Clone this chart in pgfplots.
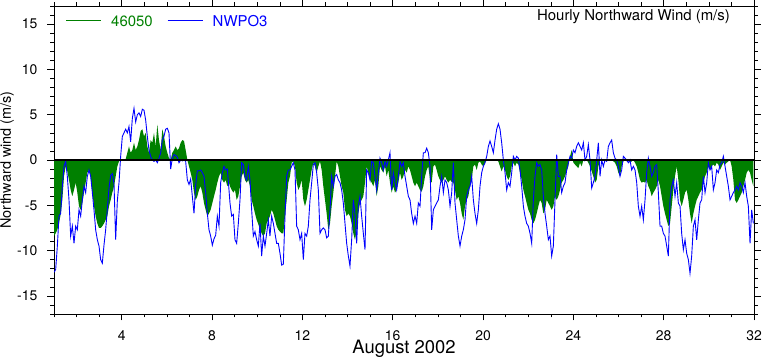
\documentclass[border=0pt]{standalone}
\usepackage{fontspec}
\setmainfont{TeX Gyre Heros}
\usepackage{pgfplots}
\pgfplotsset{compat=1.18}
\usepackage{pgfplotstable}
\definecolor{nclgreen}{RGB}{0,128,0}
\definecolor{nclblue}{RGB}{0,0,255}
\pgfplotstableread{
day b g
1.000 -12.4 -8.4
1.074 -12.1 -8.1
1.148 -9.5 -7.7
1.221 -6.2 -7.0
1.295 -5.9 -6.0
1.369 -2.9 -4.4
1.443 -0.7 -1.8
1.517 -0.15 -0.7
1.590 -1.8 -1.25
1.664 -4.4 -2.2
1.738 -8.4 -3.3
1.812 -7.3 -4.0
1.886 -9.2 -3.3
1.960 -7.3 -2.5
2.033 -7.7 -3.6
2.107 -5.5 -5.1
2.181 -6.2 -5.5
2.255 -4.4 -4.75
2.329 -2.9 -3.6
2.402 -3.6 -2.5
2.476 -1.8 -1.4
2.550 -1.1 -1.1
2.624 -1.8 -1.8
2.698 -3.6 -3.6
2.771 -5.5 -5.1
2.845 -7.7 -6.2
2.919 -8.8 -7.0
2.993 -9.5 -7.5
3.067 -11.0 -7.5
3.140 -11.4 -7.3
3.214 -9.4 -7.0
3.288 -7.7 -6.6
3.362 -5.4 -6.2
3.436 -3.1 -5.1
3.510 -1.7 -4.4
3.583 -1.5 -3.6
3.657 -2.6 -2.9
3.731 -8.8 -1.8
3.805 -4.5 -0.7
3.879 -2.5 -0.15
3.952 0.4 0
4.026 2.6 0
4.100 3.0 0
4.174 3.4 0.1
4.248 3.0 0.8
4.321 3.7 1.5
4.395 2.0 0.8
4.469 4.6 1.1
4.543 5.7 1.9
4.617 4.2 1.1
4.691 5.0 1.5
4.764 5.2 2.2
4.838 4.8 3.2
4.912 5.6 3.4
4.986 5.5 2.6
5.060 4.4 3.0
5.133 2.6 1.5
5.207 1.1 0.8
5.281 0.4 2.2
5.355 0 1.9
5.429 -0.15 3.0
5.502 0 1.5
5.576 -0.3 3.9
5.650 0.2 2.2
5.724 0.8 1.1
5.798 2.2 3.4
5.871 2.6 2.6
5.945 3.4 1.5
6.019 3.5 0.8
6.093 3.0 0.2
6.167 -1.0 0
6.241 0.2 0.8
6.314 0.6 1.1
6.388 0.5 1.5
6.462 0.3 1.1
6.536 -0.3 1.3
6.610 0 1.9
6.683 -0.1 2.2
6.757 0 2.1
6.831 -0.15 1.1
6.905 -2.2 0
6.979 -2.7 -0.7
7.052 -2.1 -1.4
7.126 -4.0 -2.2
7.200 -5.9 -3.6
7.274 -2.8 -4.4
7.348 -1.2 -4.0
7.421 -1.2 -3.3
7.495 -1.1 -2.9
7.569 -1.4 -3.6
7.643 -1.8 -4.75
7.717 -3.6 -5.5
7.791 -5.9 -6.2
7.864 -7.7 -5.9
7.938 -8.4 -5.5
8.012 -9.4 -4.75
8.086 -8.7 -4.0
8.160 -8.3 -3.3
8.233 -6.2 -2.5
8.307 -7.3 -1.8
8.381 -2.5 -1.4
8.455 -1.4 -2.2
8.529 -0.7 -2.5
8.602 -1.1 -2.2
8.676 -1.0 -2.9
8.750 -3.3 -2.5
8.794 -4.75 -2.9
8.868 -6.2 -3.3
8.942 -6.0 -3.6
9.015 -8.8 -3.3
9.089 -9.2 -4.4
9.163 -7.0 -4.0
9.237 -4.4 -2.9
9.311 -0.3 -1.8
9.384 -0.5 -1.4
9.458 -1.8 -2.2
9.532 -2.2 -2.5
9.606 -0.7 -2.2
9.680 -2.2 -2.9
9.754 -5.5 -4.4
9.827 -8.4 -5.1
9.901 -7.9 -5.9
9.975 -8.8 -6.6
10.049 -9.5 -7.1
10.123 -7.0 -7.7
10.196 -10.6 -8.1
10.270 -8.4 -8.4
10.344 -9.5 -8.1
10.418 -8.1 -7.0
10.492 -6.6 -6.6
10.565 -8.4 -6.2
10.639 -6.2 -5.5
10.713 -7.0 -5.9
10.787 -8.1 -6.6
10.861 -9.2 -7.3
10.934 -9.2 -7.7
11.008 -10.3 -7.9
11.082 -11.6 -8.1
11.156 -11.5 -8.1
11.230 -6.2 -6.2
11.304 -1.8 -4.4
11.377 -1.1 -2.5
11.451 -1.1 -1.8
11.525 -0.7 -0.3
11.599 -0.3 -0.15
11.673 -1.1 -0.7
11.746 -7.3 -2.5
11.820 -7.7 -3.3
11.894 -8.8 -2.9
11.968 -8.1 -2.2
12.042 -11.0 -4.4
12.115 -8.1 -5.1
12.189 -8.4 -4.4
12.263 -7.3 -3.3
12.337 -4.4 -2.2
12.411 -2.5 -1.1
12.485 -0.5 -0.3
12.558 -0.3 -0.7
12.632 -1.4 -1.4
12.706 -3.3 -0.7
12.780 -8.1 -0.15
12.854 -7.7 -1.1
12.927 -7.5 -2.9
13.001 -7.7 -4.4
13.075 -8.6 -5.9
13.149 -8.4 -7.7
13.223 -5.5 -7.0
13.296 -1.8 -5.1
13.370 -2.9 -3.6
13.444 -1.8 -1.8
13.518 -1.6 -0.15
13.592 -2.2 -0.7
13.665 -2.5 -1.8
13.739 -3.3 -2.9
13.813 -4.75 -3.6
13.887 -7.0 -5.5
13.961 -9.2 -6.2
14.035 -10.6 -5.9
14.108 -11.7 -6.2
14.182 -8.8 -7.0
14.256 -4.4 -8.1
14.330 -5.9 -8.8
14.404 -9.2 -7.7
14.477 -5.1 -5.9
14.551 -4.0 -4.75
14.625 -6.2 -4.4
14.699 -8.1 -4.0
14.773 -9.9 -2.5
14.846 -1.1 -0.7
14.920 -1.4 -1.4
14.994 -2.2 -2.2
15.068 -0.15 -2.5
15.142 -0.3 -2.9
15.215 -1.8 -2.2
15.289 -3.3 -4.0
15.363 -1.4 -2.9
15.437 0.2 -0.7
15.511 -0.3 -1.1
15.585 -1.1 -1.4
15.658 -0.15 -0.7
15.732 -0.7 -1.8
15.806 0 -1.1
15.880 0.8 -2.5
15.954 -3.3 -3.6
16.027 -1.4 -2.9
16.101 -2.5 -3.6
16.175 -3.3 -3.3
16.249 -1.8 -2.5
16.323 -0.15 -1.4
16.396 -0.7 -2.2
16.470 -0.3 -1.8
16.545 -1.8 -1.1
16.619 -2.9 -1.4
16.693 -4.0 -0.7
16.766 -4.4 -1.1
16.840 -5.9 -1.8
16.914 -7.0 -2.5
16.988 -6.2 -2.9
17.062 -7.0 -2.5
17.135 -4.75 -2.9
17.209 -5.1 -3.3
17.283 -1.8 -3.5
17.357 0.8 -2.9
17.431 0.8 -1.8
17.505 1.3 -1.1
17.578 0.8 -0.7
17.652 -0.7 -2.2
17.726 -7.7 -2.5
17.800 -5.5 -0.7
17.874 -5.1 -0.5
17.947 -4.75 -1.1
18.021 -4.4 -1.8
18.095 -2.9 -2.2
18.169 -1.8 -2.5
18.243 -3.6 -2.2
18.316 -2.2 -1.8
18.390 -2.5 -2.2
18.464 -3.3 -2.5
18.538 -5.1 -2.2
18.612 -3.6 -2.4
18.685 -0.3 -2.5
18.759 -4.75 -3.3
18.833 -6.6 -4.4
18.907 -8.4 -4.0
18.981 -9.5 -4.75
19.055 -8.4 -5.9
19.128 -7.7 -6.6
19.202 -6.6 -5.1
19.276 -4.0 -4.4
19.350 -3.3 -4.0
19.424 -2.9 -2.9
19.497 -1.8 -2.2
19.571 -4.4 -0.7
19.645 -5.9 -0.5
19.719 -7.0 -1.1
19.793 -5.5 -0.3
19.866 -2.9 -0.15
19.940 -1.4 -0.5
20.014 -0.7 -0.7
20.088 -0.3 -0.3
20.162 0.4 -0.07
20.236 1.5 0
20.309 2.1 0
20.383 1.5 0
20.457 0.8 -0.1
20.531 2.2 0
20.605 3.4 0
20.678 4.0 -0.15
20.752 3.4 -0.7
20.826 1.9 -1.25
20.900 0 -0.7
20.974 -1.4 -1.1
21.047 -3.3 -1.8
21.121 -2.5 -2.2
21.195 -2.9 -1.8
21.269 -1.4 -0.7
21.343 0.4 -0.3
21.416 0 -0.7
21.490 0.4 -0.3
21.564 0.2 -0.5
21.638 -1.1 -1.4
21.712 -2.9 -2.2
21.786 -5.1 -3.3
21.859 -6.2 -4.0
21.933 -7.0 -4.75
22.007 -7.3 -5.5
22.081 -8.1 -5.9
22.155 -9.2 -6.6
22.228 -4.4 -7.0
22.302 -1.8 -6.6
22.376 -0.3 -5.9
22.450 -0.7 -5.1
22.524 -0.5 -4.4
22.597 -1.1 -4.75
22.671 -4.0 -5.9
22.745 -5.9 -5.5
22.819 -7.3 -4.4
22.893 -8.8 -4.75
22.966 -8.4 -5.1
23.040 -10.6 -5.5
23.114 -9.5 -5.1
23.188 -4.4 -4.0
23.262 0.6 -4.4
23.336 -1.8 -4.0
23.409 -1.8 -3.3
23.483 -3.6 -2.5
23.557 -2.9 -2.2
23.631 -2.5 -1.8
23.704 -1.1 -1.25
23.778 -0.3 -0.7
23.852 0.4 0.4
23.926 0.2 1.1
24.000 1.1 -0.3
24.073 0.8 -0.5
24.147 1.5 -0.7
24.221 1.9 -0.9
24.295 1.5 -0.3
24.369 1.1 -0.7
24.443 1.9 0
24.516 0 0
24.590 0.4 0
24.664 1.7 -0.3
24.738 0 -0.7
24.812 -3.1 -1.25
24.885 -2.5 -1.8
24.959 -1.8 -2.5
25.033 0 -2.2
25.107 1.9 -0.7
25.181 -1.8 0
25.255 0 0
25.328 -0.7 0
25.402 0 0
25.476 -0.15 0
25.550 1.5 0
25.624 1.9 0
25.697 2.2 0
25.771 0.8 -0.15
25.845 0.2 -0.3
25.919 0 -0.7
25.993 -0.7 -1.4
26.066 -1.8 -1.8
26.140 -1.1 -0.7
26.214 0.4 -0.15
26.288 0.2 0
26.362 0 -0.15
26.435 -0.3 0
26.509 0 -0.3
26.583 -1.1 -0.15
26.657 -0.7 0
26.731 -1.1 -0.3
26.805 -2.5 -0.7
26.878 -5.1 -1.4
26.952 -6.2 -2.2
27.026 -5.1 -2.5
27.100 -6.6 -2.4
27.174 -4.4 -2.5
27.247 -1.4 -2.2
27.321 0.2 -2.9
27.395 -0.7 -3.3
27.469 -1.8 -4.0
27.543 -1.4 -3.6
27.616 -0.7 -3.3
27.690 -0.5 -2.9
27.764 -3.6 -2.2
27.838 -7.3 -2.9
27.912 -7.3 -4.0
27.986 -8.1 -5.1
28.059 -8.4 -5.9
28.133 -9.5 -6.6
28.207 -10.6 -7.3
28.281 -4.4 -7.0
28.355 -2.9 -5.1
28.428 -2.2 -3.3
28.502 -4.0 -1.8
28.576 -2.5 -0.7
28.650 -4.75 -2.2
28.724 -5.1 -4.4
28.797 -8.1 -5.1
28.871 -9.9 -4.4
28.945 -8.8 -3.6
29.019 -10.3 -3.3
29.093 -11.0 -4.4
29.166 -12.5 -5.9
29.240 -10.6 -7.0
29.314 -7.3 -5.9
29.388 -6.6 -5.1
29.462 -8.8 -4.4
29.536 -6.6 -4.0
29.609 -4.75 -3.6
29.683 -4.4 -3.3
29.757 -1.8 -2.5
29.831 -3.6 -1.8
29.905 -2.5 -1.4
29.978 -0.3 -0.7
30.052 -1.1 -1.1
30.126 -0.7 -0.7
30.200 -3.3 -0.5
30.274 -2.5 -0.7
30.347 -1.1 -0.3
30.421 -1.4 -0.5
30.495 -0.5 -1.1
30.569 -0.3 -0.7
30.643 0.4 -0.3
30.717 -0.7 -0.5
30.790 -1.8 -0.3
30.864 -2.9 -0.15
30.938 -4.4 0
31.012 -4.0 -0.7
31.086 -3.6 -2.2
31.159 -3.3 -4.4
31.233 -2.9 -4.75
31.307 -3.3 -4.4
31.381 -2.5 -4.0
31.455 -2.9 -3.6
31.528 -3.6 -2.9
31.602 -2.5 -2.2
31.676 -4.0 -1.4
31.750 -5.1 -1.1
31.824 -9.2 -1.4
31.897 -5.5 -2.2
31.971 -7.0 -2.9
}\wind
\begin{document}
\begin{tikzpicture}
\begin{axis}[
  scale only axis, width=700bp, height=308bp,
  xmin=1, xmax=32, ymin=-17, ymax=17,
  xtick={4,8,...,32}, xticklabels={4,8,12,16,20,24,28,32},
  ytick={-15,-10,...,15}, yticklabels={-15,-10,-5,0,5,10,15},
  minor xtick={1,...,32}, minor ytick={-17,...,17},
  tick align=outside, tick pos=both,
  major tick length=6.5bp, minor tick length=3.5bp,
  every tick/.style={black, line width=0.5bp},
  axis line style={line width=0.7bp},
  tick label style={font=\fontsize{14}{16}\selectfont, inner sep=0pt},
  xticklabel shift=10bp, yticklabel shift=10bp,
  legend image code/.code={},
  legend style={at={(0,1)}, anchor=north west, xshift=12bp, yshift=-9bp,
    draw=none, fill=none, inner sep=0pt, font=\fontsize{15}{18}\selectfont,
    nodes={inner sep=0pt},
    /tikz/every odd column/.append style={column sep=0bp},
    /tikz/every even column/.append style={column sep=15bp}},
  legend columns=2,
]
\addplot[fill=nclgreen, draw=none] table[x=day, y=g]{\wind} \closedcycle;
\addlegendentry[text=nclgreen]{\rule[5.55bp]{35bp}{0.9bp}\hspace{10bp}46050}
\addplot[nclblue, line width=0.9bp] table[x=day, y=b]{\wind};
\addlegendentry[text=nclblue]{\rule[5.55bp]{35bp}{0.9bp}\hspace{10bp}NWPO3}
\addplot[black, line width=1.1bp, forget plot] coordinates {(1,0) (32,0)};
\coordinate (bl) at (rel axis cs:0,0);
\coordinate (tr) at (rel axis cs:1,1);
\coordinate (lc) at (rel axis cs:0,0.5);
\coordinate (bc) at (rel axis cs:0.5,0);
\end{axis}
\node[anchor=base east, inner sep=0pt, font=\fontsize{15}{18}\selectfont]
  at ([xshift=-24bp, yshift=-14.7bp]tr) {Hourly Northward Wind (m/s)};
\node[rotate=90, anchor=base, inner sep=0pt, font=\fontsize{14.5}{17}\selectfont]
  at ([xshift=-43bp]lc) {Northward wind (m/s)};
\node[anchor=base, inner sep=0pt, font=\fontsize{18.5}{21}\selectfont]
  at ([yshift=-39.5bp]bc) {August 2002};
\pgfresetboundingbox
\path ([shift={(-54bp,-45bp)}]bl) rectangle ([shift={(8bp,6bp)}]tr);
\end{tikzpicture}
\end{document}
